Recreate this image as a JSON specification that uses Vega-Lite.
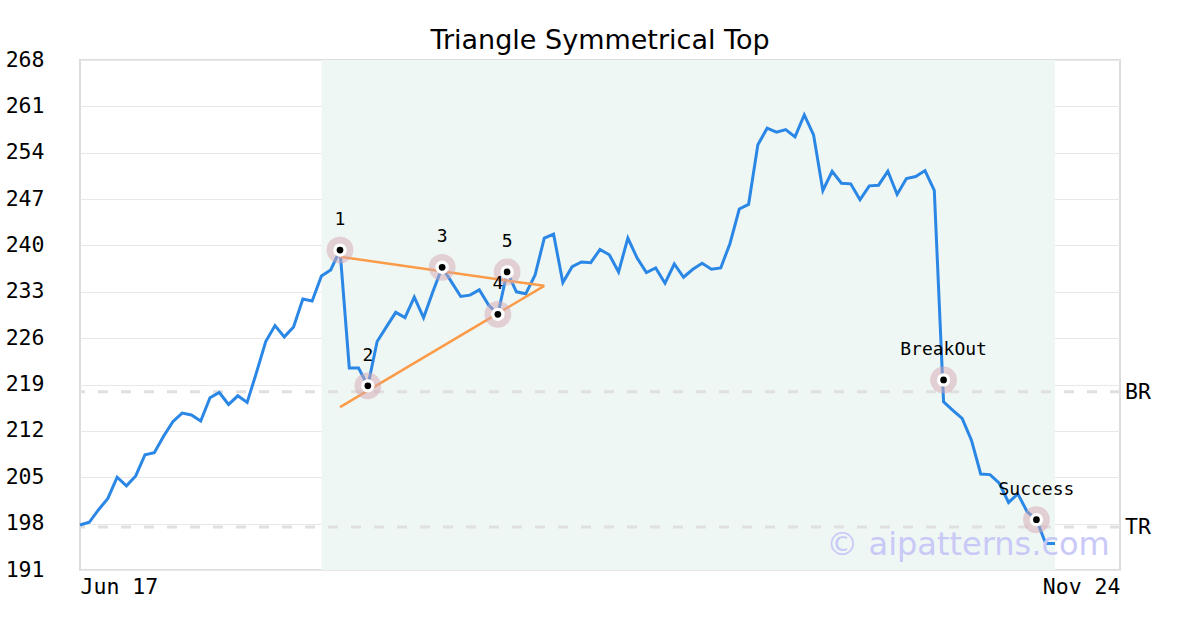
{
  "$schema": "https://vega.github.io/schema/vega-lite/v6.json",
  "width": 1040,
  "height": 510,
  "autosize": "none",
  "padding": {"left": 80, "top": 60, "right": 80, "bottom": 60},
  "background": "white",
  "title": {"text": "Triangle Symmetrical Top", "font": "DejaVu Sans", "fontSize": 27, "fontWeight": "normal", "color": "black", "offset": 10, "dy": 16},
  "config": {
    "view": {"stroke": "#dddddd", "strokeWidth": 2},
    "axis": {"labelFont": "DejaVu Sans Mono", "labelFontSize": 21.5, "labelColor": "black", "ticks": false, "tickSize": 0, "domain": false, "title": null}
  },
  "datasets": {
    "prices": [
      {"i": 0, "close": 197.8}, {"i": 1, "close": 198.2}, {"i": 2, "close": 200.1}, {"i": 3, "close": 201.8},
      {"i": 4, "close": 205.0}, {"i": 5, "close": 203.7}, {"i": 6, "close": 205.2}, {"i": 7, "close": 208.4},
      {"i": 8, "close": 208.7}, {"i": 9, "close": 211.2}, {"i": 10, "close": 213.4}, {"i": 11, "close": 214.7},
      {"i": 12, "close": 214.4}, {"i": 13, "close": 213.5}, {"i": 14, "close": 217.0}, {"i": 15, "close": 217.8},
      {"i": 16, "close": 216.0}, {"i": 17, "close": 217.3}, {"i": 18, "close": 216.3}, {"i": 19, "close": 220.8},
      {"i": 20, "close": 225.5}, {"i": 21, "close": 227.9}, {"i": 22, "close": 226.2}, {"i": 23, "close": 227.7},
      {"i": 24, "close": 231.9}, {"i": 25, "close": 231.6}, {"i": 26, "close": 235.4}, {"i": 27, "close": 236.3},
      {"i": 28, "close": 239.3}, {"i": 29, "close": 221.5}, {"i": 30, "close": 221.5}, {"i": 31, "close": 218.8},
      {"i": 32, "close": 225.5}, {"i": 33, "close": 227.7}, {"i": 34, "close": 229.9}, {"i": 35, "close": 229.1},
      {"i": 36, "close": 232.2}, {"i": 37, "close": 229.1}, {"i": 38, "close": 233.0}, {"i": 39, "close": 236.7},
      {"i": 40, "close": 234.5}, {"i": 41, "close": 232.3}, {"i": 42, "close": 232.5}, {"i": 43, "close": 233.3},
      {"i": 44, "close": 231.0}, {"i": 45, "close": 229.6}, {"i": 46, "close": 236.0}, {"i": 47, "close": 233.0},
      {"i": 48, "close": 232.7}, {"i": 49, "close": 235.5}, {"i": 50, "close": 241.1}, {"i": 51, "close": 241.7},
      {"i": 52, "close": 234.4}, {"i": 53, "close": 236.8}, {"i": 54, "close": 237.5}, {"i": 55, "close": 237.4},
      {"i": 56, "close": 239.4}, {"i": 57, "close": 238.6}, {"i": 58, "close": 236.0}, {"i": 59, "close": 241.1},
      {"i": 60, "close": 238.1}, {"i": 61, "close": 235.9}, {"i": 62, "close": 236.6}, {"i": 63, "close": 234.3},
      {"i": 64, "close": 237.2}, {"i": 65, "close": 235.2}, {"i": 66, "close": 236.4}, {"i": 67, "close": 237.3},
      {"i": 68, "close": 236.4}, {"i": 69, "close": 236.6}, {"i": 70, "close": 240.3}, {"i": 71, "close": 245.5},
      {"i": 72, "close": 246.2}, {"i": 73, "close": 255.2}, {"i": 74, "close": 257.7}, {"i": 75, "close": 257.1},
      {"i": 76, "close": 257.5}, {"i": 77, "close": 256.4}, {"i": 78, "close": 259.7}, {"i": 79, "close": 256.7},
      {"i": 80, "close": 248.3}, {"i": 81, "close": 251.2}, {"i": 82, "close": 249.4}, {"i": 83, "close": 249.3},
      {"i": 84, "close": 246.9}, {"i": 85, "close": 249.0}, {"i": 86, "close": 249.1}, {"i": 87, "close": 251.2},
      {"i": 88, "close": 247.7}, {"i": 89, "close": 250.1}, {"i": 90, "close": 250.4}, {"i": 91, "close": 251.3},
      {"i": 92, "close": 248.3}, {"i": 93, "close": 216.4}, {"i": 94, "close": 215.1}, {"i": 95, "close": 213.9},
      {"i": 96, "close": 210.6}, {"i": 97, "close": 205.5}, {"i": 98, "close": 205.4}, {"i": 99, "close": 204.1},
      {"i": 100, "close": 201.2}, {"i": 101, "close": 202.5}, {"i": 102, "close": 199.8}, {"i": 103, "close": 198.6},
      {"i": 104, "close": 195.0}, {"i": 105, "close": 195.0}
    ],
    "zone": [{"start": 26, "end": 105}],
    "levels": [{"level": "BR", "v": 217.9}, {"level": "TR", "v": 197.5}],
    "trend": [
      {"line": "upper", "i": 28, "v": 238.3}, {"line": "upper", "i": 50, "v": 233.9},
      {"line": "lower", "i": 28, "v": 215.6}, {"line": "lower", "i": 50, "v": 233.9}
    ],
    "points": [
      {"label": "1", "i": 28, "v": 239.3},
      {"label": "2", "i": 31, "v": 218.8},
      {"label": "3", "i": 39, "v": 236.7},
      {"label": "4", "i": 45, "v": 229.6},
      {"label": "5", "i": 46, "v": 236.0},
      {"label": "BreakOut", "i": 93, "v": 219.7},
      {"label": "Success", "i": 103, "v": 198.6}
    ],
    "watermark": [{"text": "© aipatterns.com", "i": 110.9, "v": 193.3}]
  },
  "layer": [
    {
      "data": {"name": "zone"},
      "mark": {"type": "rect", "color": "#eff7f4"},
      "encoding": {
        "x": {"field": "start", "type": "quantitative", "scale": {"domain": [0, 112], "nice": false, "zero": false},
              "axis": {"values": [0, 112], "labelExpr": "datum.value == 0 ? 'Jun 17' : 'Nov 24'", "labelFlush": true, "grid": false, "labelPadding": 6}},
        "x2": {"field": "end"}
      }
    },
    {
      "data": {"name": "levels"},
      "mark": {"type": "rule", "color": "#e0e0e0", "strokeWidth": 3, "strokeDash": [10, 13]},
      "encoding": {
        "y": {"field": "v", "type": "quantitative", "scale": {"domain": [191, 268], "nice": false, "zero": false},
              "axis": {"values": [191, 198, 205, 212, 219, 226, 233, 240, 247, 254, 261, 268], "grid": true, "gridColor": "#e8e8e8", "labelPadding": 36}}
      }
    },
    {
      "data": {"name": "levels"},
      "mark": {"type": "text", "font": "DejaVu Sans Mono", "fontSize": 21.5, "color": "black", "align": "left", "baseline": "middle", "dx": 5, "dy": 1},
      "encoding": {
        "x": {"datum": 112, "type": "quantitative"},
        "y": {"field": "v", "type": "quantitative"},
        "text": {"field": "level"}
      }
    },
    {
      "data": {"name": "prices"},
      "mark": {"type": "line", "color": "#2a87e6", "strokeWidth": 3},
      "encoding": {
        "x": {"field": "i", "type": "quantitative"},
        "y": {"field": "close", "type": "quantitative"}
      }
    },
    {
      "data": {"name": "trend"},
      "mark": {"type": "line", "color": "#fb9b48", "strokeWidth": 2.5},
      "encoding": {
        "x": {"field": "i", "type": "quantitative"},
        "y": {"field": "v", "type": "quantitative"},
        "detail": {"field": "line"}
      }
    },
    {
      "data": {"name": "points"},
      "mark": {"type": "circle", "color": "#d4a8b2", "opacity": 0.5, "size": 720},
      "encoding": {"x": {"field": "i", "type": "quantitative"}, "y": {"field": "v", "type": "quantitative"}}
    },
    {
      "data": {"name": "points"},
      "mark": {"type": "circle", "color": "white", "opacity": 1, "size": 180},
      "encoding": {"x": {"field": "i", "type": "quantitative"}, "y": {"field": "v", "type": "quantitative"}}
    },
    {
      "data": {"name": "points"},
      "mark": {"type": "circle", "color": "black", "opacity": 1, "size": 45},
      "encoding": {"x": {"field": "i", "type": "quantitative"}, "y": {"field": "v", "type": "quantitative"}}
    },
    {
      "data": {"name": "points"},
      "mark": {"type": "text", "font": "DejaVu Sans Mono", "fontSize": 18, "color": "black", "align": "center", "baseline": "middle", "dy": -30},
      "encoding": {"x": {"field": "i", "type": "quantitative"}, "y": {"field": "v", "type": "quantitative"}, "text": {"field": "label"}}
    },
    {
      "data": {"name": "watermark"},
      "mark": {"type": "text", "font": "DejaVu Sans", "fontSize": 32, "color": "#c9c9f7", "align": "right", "baseline": "alphabetic"},
      "encoding": {
        "x": {"field": "i", "type": "quantitative"},
        "y": {"field": "v", "type": "quantitative"},
        "text": {"field": "text"}
      }
    }
  ]
}
